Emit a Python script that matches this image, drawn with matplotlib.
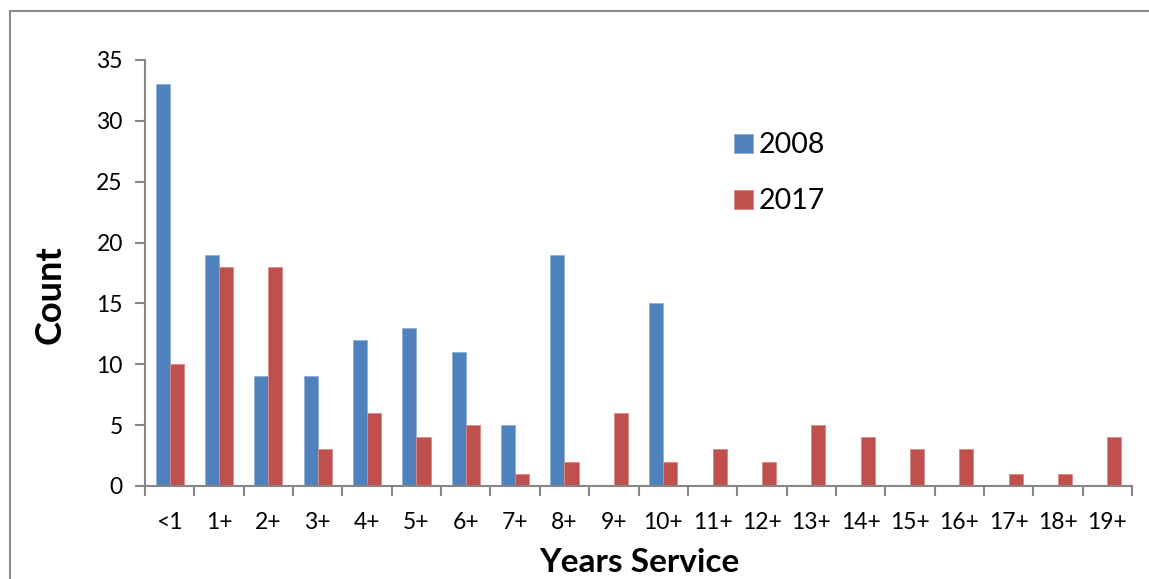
import matplotlib
matplotlib.use("Agg")
import matplotlib.pyplot as plt
from matplotlib.patches import Rectangle
import numpy as np

plt.rcParams['font.family'] = ['Lato', 'DejaVu Sans']

categories = ['<1', '1+', '2+', '3+', '4+', '5+', '6+', '7+', '8+', '9+',
              '10+', '11+', '12+', '13+', '14+', '15+', '16+', '17+', '18+', '19+']
counts_2008 = [33, 19, 9, 9, 12, 13, 11, 5, 19, 0, 15, 0, 0, 0, 0, 0, 0, 0, 0, 0]
counts_2017 = [10, 18, 18, 3, 6, 4, 5, 1, 2, 6, 2, 3, 2, 5, 4, 3, 3, 1, 1, 4]
series_labels = ['2008', '2017']

W, H = 1149, 579
fig = plt.figure(figsize=(W / 100, H / 100), dpi=100)
fig.patch.set_facecolor('white')

# outer chart-area frame
fig.patches.append(Rectangle((10 / W, -0.05), 1.2, 1 - 11 / H + 0.05,
                             transform=fig.transFigure, fill=False,
                             edgecolor='#8a8a8a', linewidth=1.5))

ax = fig.add_axes([145 / W, (H - 486) / H, (1132 - 145) / W, (486 - 60) / H])

n = len(categories)
x = np.arange(n) + 0.5
bw = 1 / 3.5
blue, red = '#4F81BD', '#C0504D'
ax.bar(x - bw / 2, counts_2008, width=bw, color=blue, edgecolor='#8fb0d8',
       linewidth=0.6, label=series_labels[0])
ax.bar(x + bw / 2, counts_2017, width=bw, color=red, edgecolor='#d98a88',
       linewidth=0.6, label=series_labels[1])

ax.set_xlim(0, n)
ax.set_ylim(0, 35)
ax.set_yticks(np.arange(0, 36, 5))
ax.set_xticks(np.arange(0, n + 1))
ax.set_xticklabels([])
ax.set_xticks(x, minor=True)
ax.set_xticklabels(categories, minor=True)

for s in ['top', 'right']:
    ax.spines[s].set_visible(False)
for s in ['left', 'bottom']:
    ax.spines[s].set_color('#868686')
    ax.spines[s].set_linewidth(1.5)

ax.tick_params(axis='y', which='major', length=7, width=1.5, color='#868686',
               labelsize=16.5, pad=9, labelcolor='black')
ax.tick_params(axis='x', which='major', length=7, width=1.5, color='#868686')
ax.tick_params(axis='x', which='minor', length=0, labelsize=16.5, pad=19,
               labelcolor='black')

fig.text(50 / W, 1 - 295 / H, 'Count', rotation=90, ha='center', va='center',
         fontsize=26, fontweight='bold')
fig.text(639 / W, 1 - 562 / H, 'Years Service', ha='center', va='center',
         fontsize=24, fontweight='bold')

leg = ax.legend(loc='upper left', bbox_to_anchor=(720 / W, 1 - 118 / H),
                bbox_transform=fig.transFigure, frameon=False, fontsize=20.5,
                handlelength=0.65, handleheight=0.65, handletextpad=0.2,
                labelspacing=1.05, borderpad=0)

fig.savefig('out.png', dpi=100, facecolor='white')
